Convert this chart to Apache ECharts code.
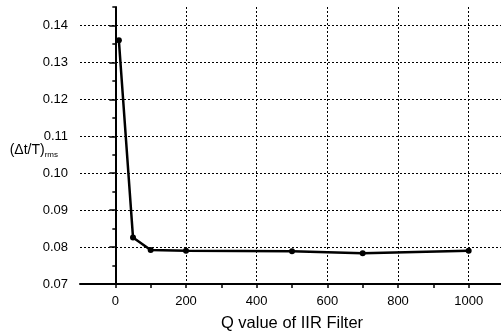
<!DOCTYPE html>
<html>
<head>
<meta charset="utf-8">
<script src="https://cdn.jsdelivr.net/npm/echarts@6/dist/echarts.min.js"></script>
<style>
  html, body { margin: 0; padding: 0; background: #fff; }
  #chart { width: 501px; height: 332px; }
</style>
</head>
<body>
<div id="chart"></div>
<script>
// Q value of the IIR filter and the measured (Δt/T)rms
const qValues = [10, 50, 100, 200, 500, 700, 1000];
const rmsValues = [0.1360, 0.0826, 0.0792, 0.0790, 0.0789, 0.0783, 0.0790];

const xMajorTicks = [0, 200, 400, 600, 800, 1000];
const xAllTicks = [0, 100, 200, 300, 400, 500, 600, 700, 800, 900, 1000, 1100];
const yMajorTicks = [0.07, 0.08, 0.09, 0.10, 0.11, 0.12, 0.13, 0.14];
const yAllTicks = [0.07, 0.075, 0.08, 0.085, 0.09, 0.095, 0.10, 0.105, 0.11, 0.115, 0.12, 0.125, 0.13, 0.135, 0.14, 0.145];

const font = 'Liberation Sans, Arial, sans-serif';

const chart = echarts.init(document.getElementById('chart'));

const dotted = { type: [2, 2], color: '#000', width: 1 };

chart.setOption({
  animation: false,
  grid: { left: 80, top: 7, right: -3, bottom: 48, outerBoundsMode: 'none', containLabel: false },
  xAxis: [
    {
      type: 'value', min: -100, max: 1100,
      axisLine: { show: true, lineStyle: { color: '#000', width: 2 } },
      axisTick: { show: true, customValues: xAllTicks, length: 4, lineStyle: { color: '#000', width: 1.5 } },
      axisLabel: {
        customValues: xMajorTicks, color: '#000', fontSize: 13, fontFamily: font, margin: 11,
        formatter: v => String(v)
      },
      splitLine: { show: false },
      name: 'Q value of IIR Filter',
      nameLocation: 'middle',
      nameGap: 31,
      nameMoveOverlap: false,
      nameTextStyle: { color: '#000', fontSize: 16.5, fontFamily: font }
    },
    {
      type: 'value', min: -100, max: 1100, position: 'bottom',
      axisLine: { show: false },
      axisTick: { show: false, customValues: xMajorTicks },
      axisLabel: { show: false },
      splitLine: { show: true, lineStyle: dotted }
    }
  ],
  yAxis: [
    {
      type: 'value', min: 0.07, max: 0.145,
      axisLine: { show: true, lineStyle: { color: '#000', width: 2 } },
      axisTick: { show: true, customValues: yAllTicks, length: 3, lineStyle: { color: '#000', width: 1.5 } },
      axisLabel: {
        customValues: yMajorTicks, color: '#000', fontSize: 13, fontFamily: font, margin: 12,
        formatter: v => v.toFixed(2)
      },
      splitLine: { show: false },
      name: '{m|(Δt/T)}{s|rms}',
      nameLocation: 'middle',
      nameRotate: 0,
      nameGap: 22,
      nameMoveOverlap: false,
      nameTextStyle: {
        align: 'right',
        padding: [10, 0, 0, 0],
        rich: {
          m: { color: '#000', fontSize: 14, fontFamily: font },
          s: { color: '#000', fontSize: 8, fontFamily: font, padding: [9, 0, 0, 0] }
        }
      }
    },
    {
      type: 'value', min: 0.07, max: 0.145, position: 'left',
      axisLine: { show: false },
      axisTick: { show: true, customValues: yMajorTicks, length: 6, lineStyle: { color: '#000', width: 1.5 } },
      axisLabel: { show: false },
      splitLine: { show: true, lineStyle: dotted }
    }
  ],
  series: [{
    type: 'line',
    data: qValues.map((q, i) => [q, rmsValues[i]]),
    symbol: 'circle',
    symbolSize: 6,
    lineStyle: { color: '#000', width: 2.5 },
    itemStyle: { color: '#000' }
  }]
});
</script>
</body>
</html>
